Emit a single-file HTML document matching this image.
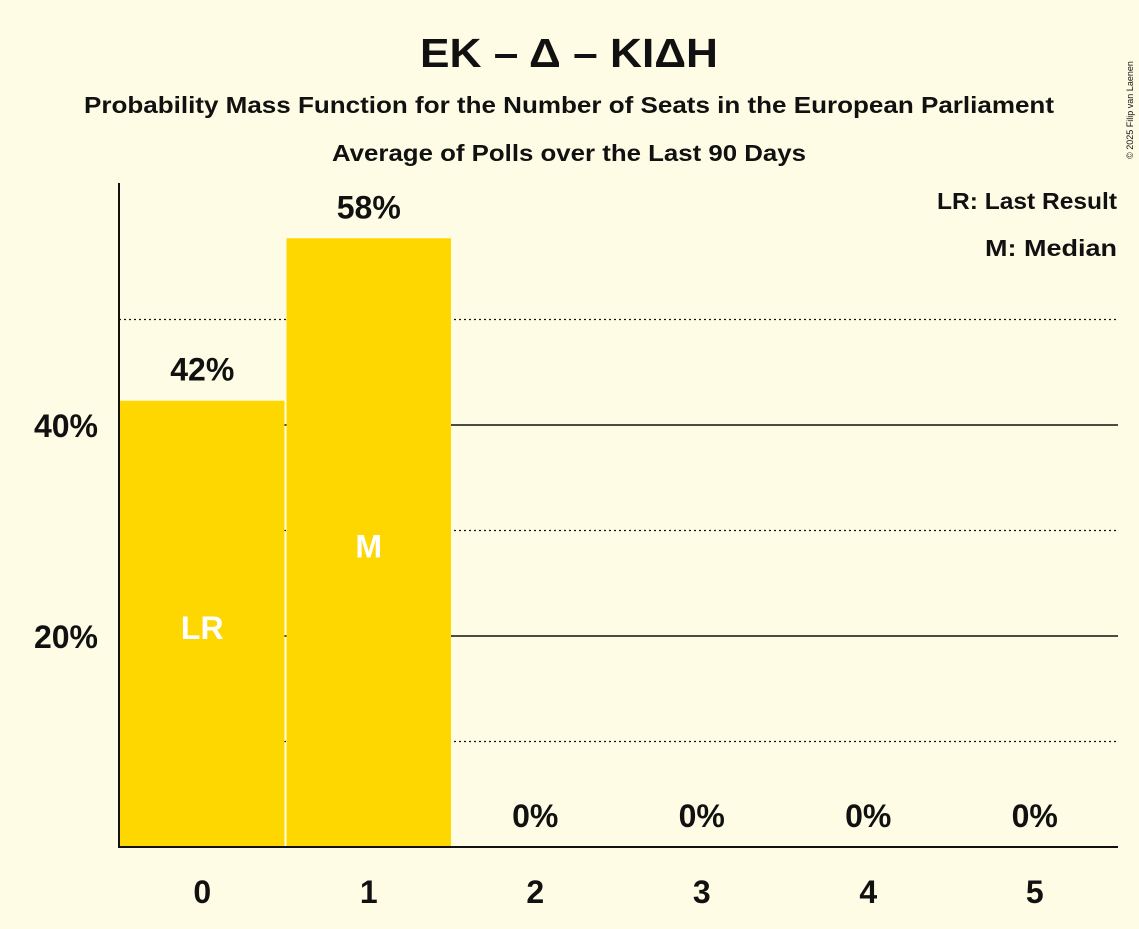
<!DOCTYPE html>
<html><head><meta charset="utf-8"><style>
body{margin:0;background:#FFFCE5;}
svg text{font-family:"Liberation Sans",sans-serif;font-weight:bold;fill:#111;}
</style></head><body>
<svg id="c" width="1139" height="924" xmlns="http://www.w3.org/2000/svg">
<rect width="1139" height="924" fill="#FFFCE5"/>
<text x="569" y="67" font-size="41" text-anchor="middle" textLength="298" lengthAdjust="spacingAndGlyphs">ΕΚ – Δ – ΚΙΔΗ</text>
<text x="569" y="113" font-size="23" text-anchor="middle" textLength="970" lengthAdjust="spacingAndGlyphs">Probability Mass Function for the Number of Seats in the European Parliament</text>
<text x="569" y="161" font-size="23" text-anchor="middle" textLength="474" lengthAdjust="spacingAndGlyphs">Average of Polls over the Last 90 Days</text>
<text x="1117" y="209" font-size="23" text-anchor="end" textLength="180" lengthAdjust="spacingAndGlyphs">LR: Last Result</text>
<text x="1117" y="256" font-size="23" text-anchor="end" textLength="132" lengthAdjust="spacingAndGlyphs">M: Median</text>
<text x="1133" y="110" font-size="9" transform="rotate(-90 1133 110)" text-anchor="middle" style="font-weight:normal">© 2025 Filip van Laenen</text>
<g id="grid"></g><g id="bars"></g><g id="labels"></g>
<line x1="119" y1="183" x2="119" y2="848" stroke="#111" stroke-width="2"/>
<line x1="118" y1="847" x2="1118" y2="847" stroke="#111" stroke-width="2"/>
</svg>
<script>
const categories=[0,1,2,3,4,5];
const values=[42.3,57.7,0,0,0,0];
const valueLabels=["42%","58%","0%","0%","0%","0%"];
const barMarks=["LR","M","","","",""];
const solidTicks=[20,40];
const dottedTicks=[10,30,50];
const tickLabels=["20%","40%"];
const NS="http://www.w3.org/2000/svg";
const x0=119,x1=1118,base=847,pxPer=10.55;
const slot=(x1-x0)/categories.length;
const y=v=>base-v*pxPer;
const xc=i=>x0+slot*(i+0.5);
function mk(t,a,p){const e=document.createElementNS(NS,t);for(const k in a)e.setAttribute(k,a[k]);p.appendChild(e);return e;}
const g=document.getElementById('grid'),b=document.getElementById('bars'),l=document.getElementById('labels');
dottedTicks.forEach(v=>{const e=mk('line',{x1:x0,x2:x1,y1:y(v),y2:y(v),stroke:'#111','stroke-width':1.3,'stroke-dasharray':'2,3'},g);

});
solidTicks.forEach((v,i)=>{const e=mk('line',{x1:x0,x2:x1,y1:y(v),y2:y(v),stroke:'#111','stroke-width':1.5},g);


const t=mk('text',{x:98,y:y(v)+12,'font-size':32,'text-anchor':'end'},l);t.textContent=tickLabels[i];

});
categories.forEach((c,i)=>{
 if(values[i]>0){const r=mk('rect',{x:x0+slot*i+1,y:y(values[i]),width:slot-2,height:base-y(values[i]),fill:'#FFD700'},b);
 
 }
 const t=mk('text',{x:xc(i),y:y(values[i])-20,'font-size':32,'text-anchor':'middle'},l);t.textContent=valueLabels[i];
 
 
 if(barMarks[i]){const m=mk('text',{x:xc(i),y:y(values[i]/2)+15,'font-size':32,'text-anchor':'middle',style:'fill:#fff'},l);m.textContent=barMarks[i];
 
 }
 const xt=mk('text',{x:xc(i),y:903,'font-size':32,'text-anchor':'middle'},l);xt.textContent=c;
 
 
});
</script>
</body></html>
